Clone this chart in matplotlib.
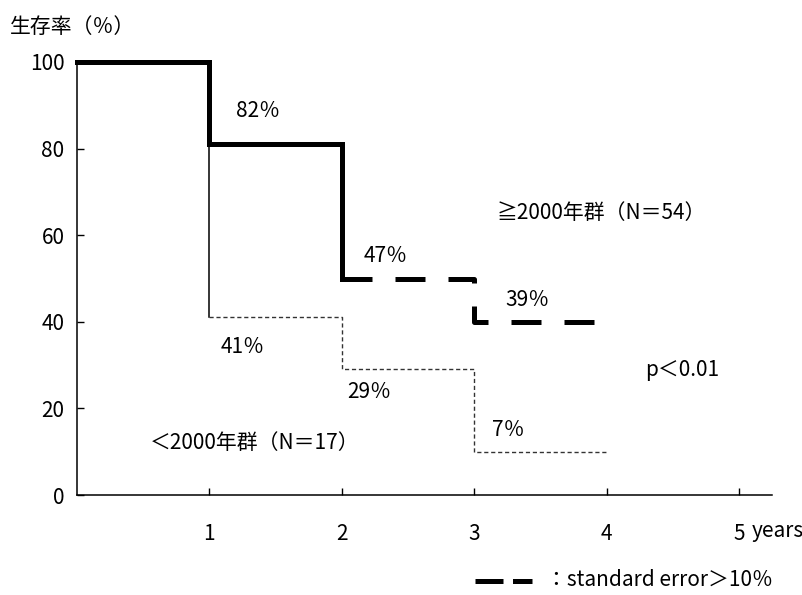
import matplotlib
matplotlib.use('Agg')
import matplotlib.pyplot as plt
from matplotlib.lines import Line2D

plt.rcParams['font.family'] = ['Noto Sans CJK JP', 'DejaVu Sans']

# survival data
years = [0, 1, 2, 3, 4]
surv_after = [100, 81, 50, 40, 40]    # ≧2000年群 (N=54)
surv_before = [100, 41, 29, 10, 10]   # <2000年群 (N=17)
labels_after = ['82％', '47％', '39％']
labels_before = ['41％', '29％', '7％']
x_ticks = [1, 2, 3, 4, 5]
y_ticks = [0, 20, 40, 60, 80, 100]

# label placement (style only)
pos_after = [(1.37, 88.7), (2.33, 55.2), (3.40, 45.0)]
pos_before = [(1.25, 34.2), (2.21, 23.8), (3.26, 15.0)]

fs = 15

fig = plt.figure(figsize=(8.03, 5.95), dpi=100)
ax = fig.add_axes([77 / 803, 1 - 495 / 595, (772 - 77) / 803, (495 - 62) / 595])

# >=2000 group: solid up to 2 years, thick dashed afterwards (SE > 10%)
ax.plot(years[:3], surv_after[:3], drawstyle='steps-post', color='black',
        lw=3.6, solid_joinstyle='miter', zorder=3, clip_on=False)
ax.plot(years[2:], surv_after[2:], drawstyle='steps-post', color='black',
        lw=3.6, dashes=(6, 4.6), dash_capstyle='butt', zorder=3)

# <2000 group: thin solid then thin dashed
ax.plot(years[:2], surv_before[:2], drawstyle='steps-post', color='black',
        lw=1.1, zorder=2)
ax.plot(years[1:], surv_before[1:], drawstyle='steps-post', color='#333333',
        lw=1.0, dashes=(3, 2), zorder=2)

for txt, (x, y) in zip(labels_after, pos_after):
    ax.text(x, y, txt, fontsize=fs, ha='center', va='center')
for txt, (x, y) in zip(labels_before, pos_before):
    ax.text(x, y, txt, fontsize=fs, ha='center', va='center')

ax.text(3.17, 65.1, '≧2000年群（N＝54）', fontsize=fs, ha='left', va='center')
ax.text(0.55, 12.0, '＜2000年群（N＝17）', fontsize=fs, ha='left', va='center')
ax.text(4.29, 28.9, 'p＜0.01', fontsize=fs, ha='left', va='center')

ax.set_xlim(0, 5.25)
ax.set_ylim(0, 100)
ax.set_xticks(x_ticks)
ax.set_xticklabels([str(t) for t in x_ticks])
ax.set_yticks(y_ticks)
ax.set_yticklabels([str(t) for t in y_ticks])

for side in ['top', 'right']:
    ax.spines[side].set_visible(False)
for side in ['left', 'bottom']:
    ax.spines[side].set_linewidth(1.1)

ax.tick_params(axis='both', direction='in', length=5, width=1, labelsize=fs)
ax.tick_params(axis='x', pad=20)
ax.tick_params(axis='y', pad=9)

ax.annotate('years', xy=(5, 0), xytext=(9, -26), textcoords='offset points',
            fontsize=fs, ha='left', va='center', annotation_clip=False)

fig.text(10 / 803, 1 - 27 / 595, '生存率（％）', fontsize=fs, ha='left', va='center')

# key for the thick dashed line
key = Line2D([475 / 803, 532 / 803], [1 - 581 / 595] * 2, transform=fig.transFigure,
             color='black', lw=3.6, dashes=(5.6, 1.9), dash_capstyle='butt')
fig.add_artist(key)
fig.text(546 / 803, 1 - 580 / 595, '：standard error＞10％', fontsize=fs,
         ha='left', va='center')

fig.savefig('out.png', dpi=100)
